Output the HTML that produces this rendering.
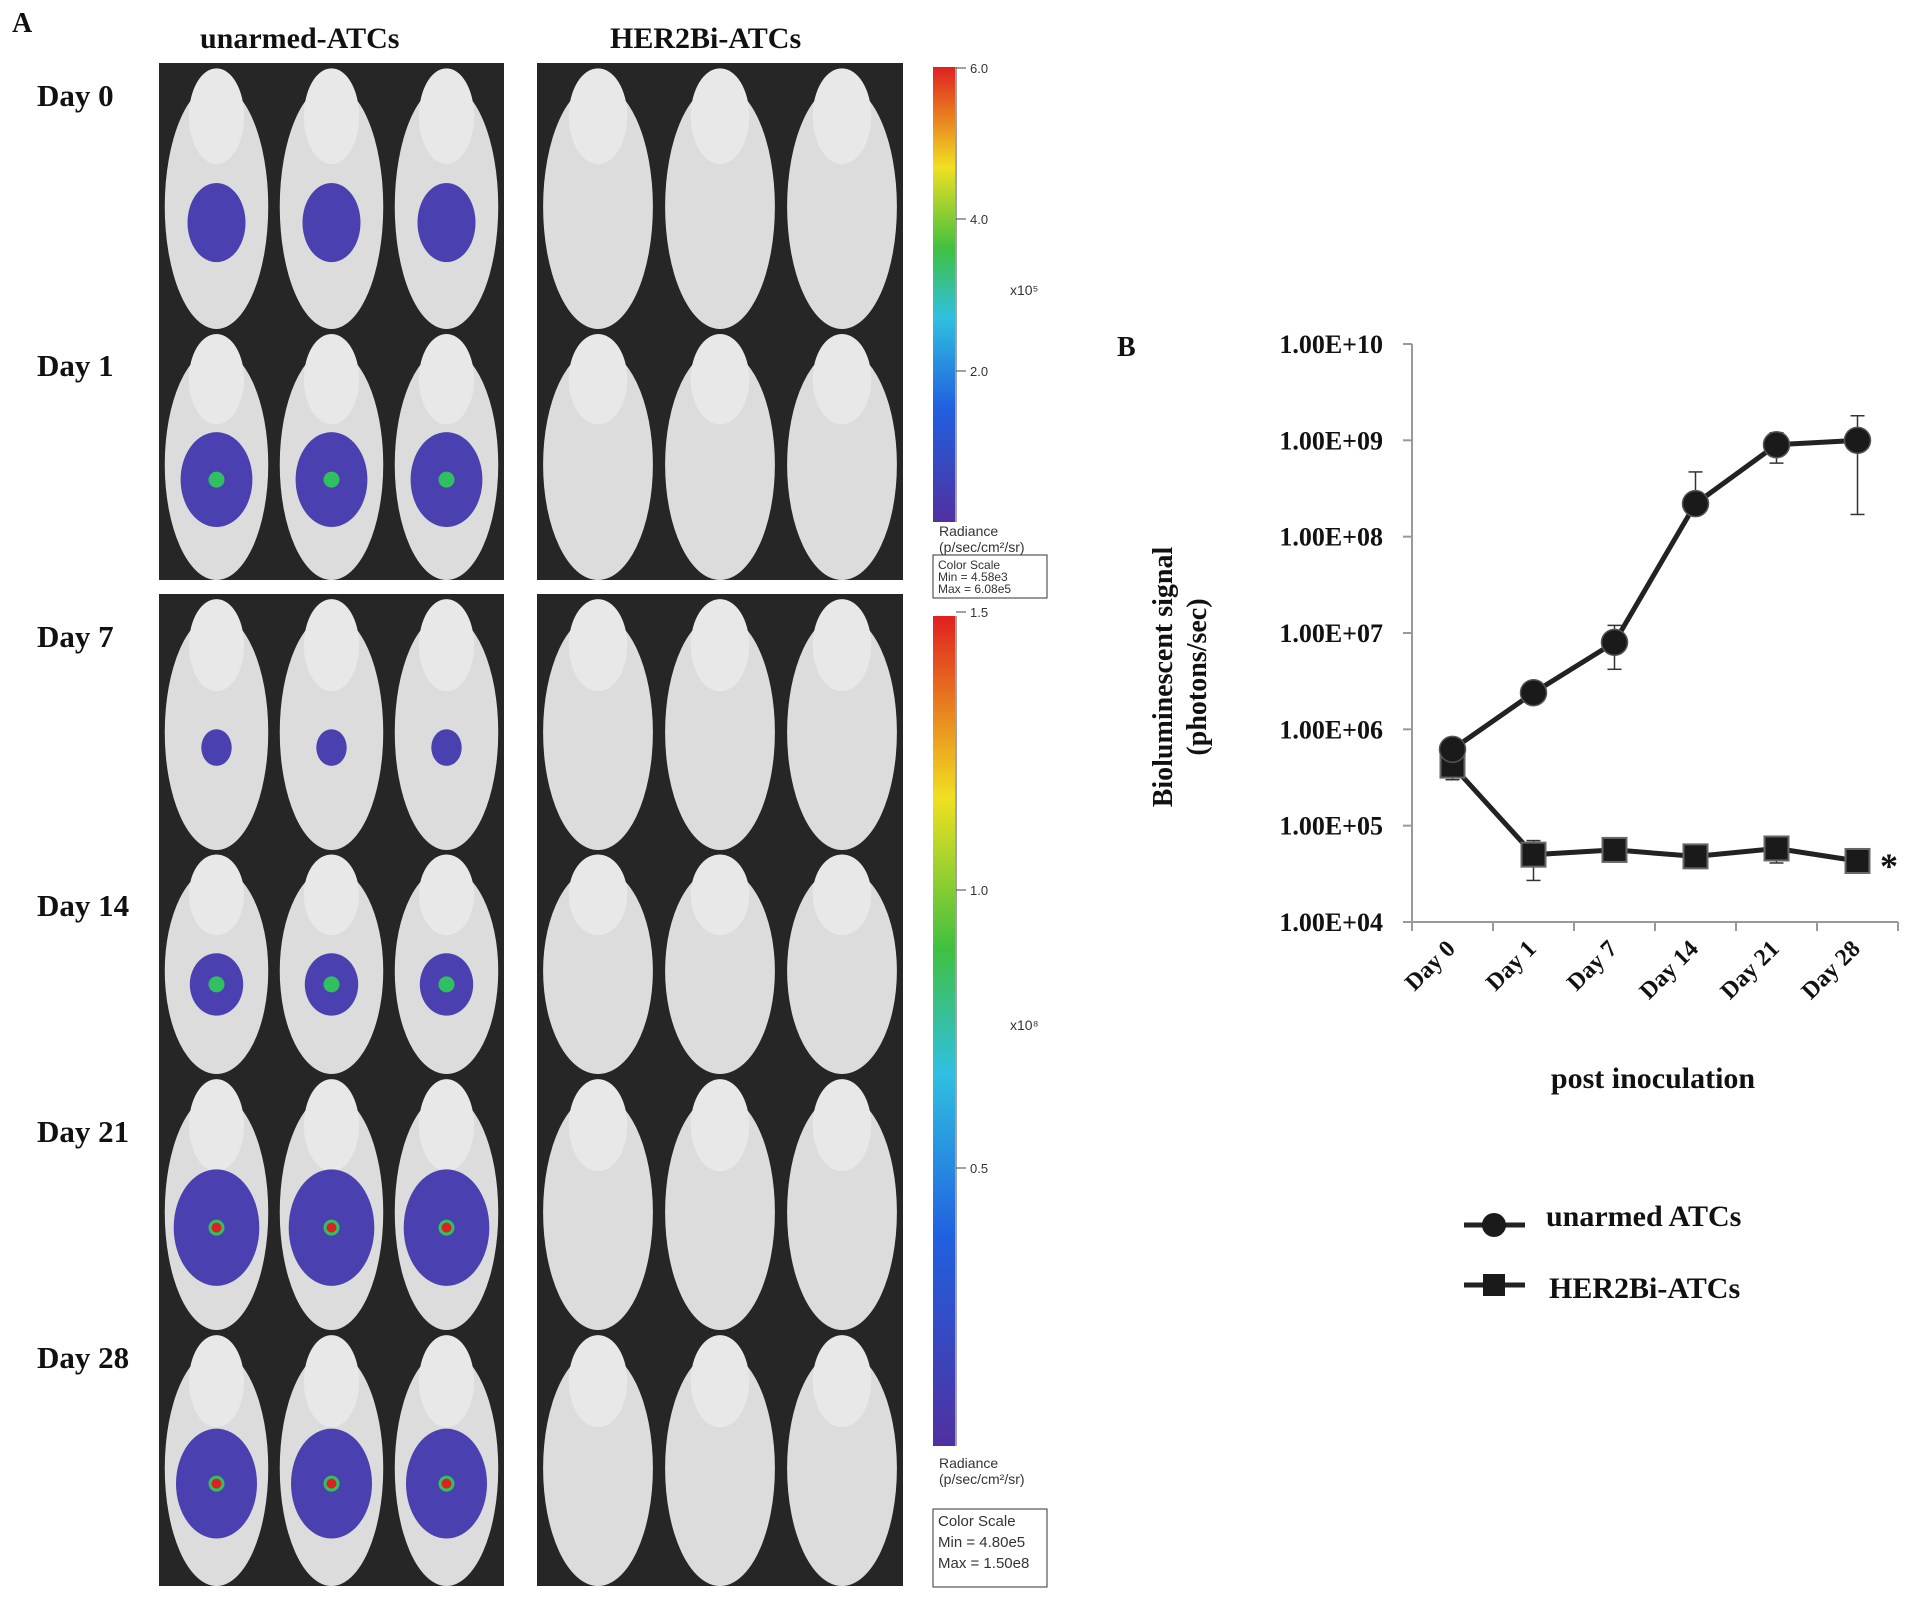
<!DOCTYPE html>
<html><head><meta charset="utf-8"><style>
body{margin:0;background:#fff;width:1913px;height:1610px;overflow:hidden;position:relative;font-family:"Liberation Serif",serif}
.t{position:absolute;font-weight:bold;color:#111;white-space:nowrap}
</style></head><body>
<div class="t" style="left:12px;top:8px;font-size:28px">A</div>
<div class="t" style="left:200px;top:22px;font-size:30px">unarmed-ATCs</div>
<div class="t" style="left:610px;top:22px;font-size:30px">HER2Bi-ATCs</div>
<svg id="photos" width="1100" height="1610" style="position:absolute;left:0;top:0"></svg>
<svg id="chart" width="1913" height="1610" style="position:absolute;left:0;top:0;pointer-events:none"></svg>
<script>
const NS="http://www.w3.org/2000/svg";
function mk(p,t,a){const e=document.createElementNS(NS,t);for(const k in a)e.setAttribute(k,a[k]);p.appendChild(e);return e;}
// ---- Panel A ----
const ph=document.getElementById('photos');
const dayLabels=["Day  0","Day 1","Day 7","Day 14","Day 21","Day 28"];
const rowsY=[[63,329],[329,580],[594,850],[850,1074],[1074,1330],[1330,1586]];
const labelY=[96,366,637,906,1132,1358];
const blobLevel=[1,1.3,0.4,0.9,1.6,1.5];
const blobHot=[0,1,0,1,2,2];
rowsY.forEach((r,i)=>{
  const tx=mk(ph,'text',{x:37,y:labelY[i]+10,'font-size':31,'font-weight':'bold','font-family':'Liberation Serif,serif',fill:'#111'});
  tx.textContent=dayLabels[i];
  
  
  [[159,504],[537,903]].forEach((c,j)=>{
    const g=mk(ph,'g',{});
    
    
    mk(g,'rect',{x:c[0],y:r[0],width:c[1]-c[0],height:r[1]-r[0],fill:'#262626'});
    const w=(c[1]-c[0])/3,h=r[1]-r[0];
    for(let k=0;k<3;k++){
      const cx=c[0]+w*(k+0.5),cy=r[0]+h*0.54;
      mk(g,'ellipse',{cx:cx,cy:cy,rx:w*0.45,ry:h*0.46,fill:'#dcdcdc'});
      mk(g,'ellipse',{cx:cx,cy:r[0]+h*0.2,rx:w*0.24,ry:h*0.18,fill:'#e8e8e8'});
      if(j===0){
        const lv=blobLevel[i],by=r[0]+h*0.6;
        mk(g,'ellipse',{cx:cx,cy:by,rx:w*0.2*lv+6,ry:h*0.13*lv+5,fill:'#4a40b0'});
        if(blobHot[i]>=1)mk(g,'circle',{cx:cx,cy:by,r:8,fill:'#30c060'});
        if(blobHot[i]>=2)mk(g,'circle',{cx:cx,cy:by,r:5,fill:'#e02020'});
      }
    }
  });
});
// colorbars
const defs=mk(ph,'defs',{});
const gr=mk(defs,'linearGradient',{id:'cb',x1:0,y1:1,x2:0,y2:0});
[['0','#5030a0'],['0.25','#2060e0'],['0.45','#30c0e0'],['0.6','#40c040'],['0.78','#f0e020'],['1','#e02020']].forEach(s=>mk(gr,'stop',{offset:s[0],'stop-color':s[1]}));
function cbar(y0,y1,ticks,tickY,exp,ey,ry,by,minT,maxT){
  const g=mk(ph,'g',{});
  
  
  mk(g,'rect',{x:933,y:y0,width:22,height:y1-y0,fill:'url(#cb)'});
  mk(g,'line',{x1:956,y1:y0,x2:956,y2:y1,stroke:'#444'});
  ticks.forEach((t,i)=>{mk(g,'line',{x1:956,y1:tickY[i],x2:966,y2:tickY[i],stroke:'#444'});
    const e=mk(g,'text',{x:970,y:tickY[i]+5,'font-size':13,'font-family':'Liberation Sans,sans-serif',fill:'#333'});e.textContent=t;});
  const x=mk(g,'text',{x:1010,y:ey,'font-size':14,'font-family':'Liberation Sans,sans-serif',fill:'#333'});x.textContent=exp;
  const r1=mk(g,'text',{x:939,y:ry,'font-size':14,'font-family':'Liberation Sans,sans-serif',fill:'#333'});r1.textContent='Radiance';
  const r2=mk(g,'text',{x:939,y:ry+16,'font-size':14,'font-family':'Liberation Sans,sans-serif',fill:'#333'});r2.textContent='(p/sec/cm²/sr)';
  mk(g,'rect',{x:933,y:by,width:114,height:y1>1000?78:43,fill:'none',stroke:'#333'});
  const fs=y1>1000?15:12,lh=y1>1000?21:12;
  ['Color Scale',minT,maxT].forEach((s,i)=>{const e=mk(g,'text',{x:938,y:by+fs+2+i*lh,'font-size':fs,'font-family':'Liberation Sans,sans-serif',fill:'#333'});e.textContent=s;});
}
cbar(67,522,['6.0','4.0','2.0'],[68,219,371],'x10⁵',295,536,555,'Min = 4.58e3','Max = 6.08e5');
cbar(616,1446,['1.5','1.0','0.5'],[612,890,1168],'x10⁸',1030,1468,1509,'Min = 4.80e5','Max = 1.50e8');

// ---- Panel B chart ----
const categories=["Day 0","Day 1","Day 7","Day 14","Day 21","Day 28"];
const unarmed=[6.2e5,2.4e6,8.0e6,2.2e8,9.0e8,1.0e9];
const unarmedErrHi=[6.8e5,2.6e6,1.2e7,4.7e8,1.2e9,1.8e9];
const unarmedErrLo=[5.6e5,2.2e6,4.2e6,2.2e8,5.8e8,1.7e8];
const her2bi=[4.2e5,5.0e4,5.6e4,4.8e4,5.8e4,4.3e4];
const her2biErrHi=[5.0e5,7.0e4,5.6e4,4.8e4,5.8e4,4.3e4];
const her2biErrLo=[3.0e5,2.7e4,5.6e4,4.8e4,4.1e4,4.3e4];
const yTicks=[1e4,1e5,1e6,1e7,1e8,1e9,1e10];
const yTickLabels=["1.00E+04","1.00E+05","1.00E+06","1.00E+07","1.00E+08","1.00E+09","1.00E+10"];
const ch=document.getElementById('chart');
const X0=1412,X1=1898,Y0=922,Y1=344;
const xs=i=>X0+(X1-X0)/categories.length*(i+0.5);
const ys=v=>Y0-(Math.log10(v)-4)/6*(Y0-Y1);
mk(ch,'line',{x1:X0,y1:Y1,x2:X0,y2:Y0,stroke:'#999','stroke-width':2});
mk(ch,'line',{x1:X0,y1:Y0,x2:X1,y2:Y0,stroke:'#999','stroke-width':2});
yTicks.forEach((v,i)=>{
  mk(ch,'line',{x1:X0-9,y1:ys(v),x2:X0,y2:ys(v),stroke:'#999','stroke-width':2});
  const t=mk(ch,'text',{x:1383,y:ys(v)+9,'text-anchor':'end','font-size':26,'font-weight':'bold','font-family':'Liberation Serif,serif',fill:'#111'});
  t.textContent=yTickLabels[i];
  
  
});
for(let i=0;i<=categories.length;i++){const x=X0+(X1-X0)/categories.length*i;mk(ch,'line',{x1:x,y1:Y0,x2:x,y2:Y0+9,stroke:'#999','stroke-width':2});}
categories.forEach((c,i)=>{
  const x=xs(i)+4,y=Y0+28;
  const t=mk(ch,'text',{x:x,y:y,'text-anchor':'end','font-size':24,'font-weight':'bold','font-family':'Liberation Serif,serif',fill:'#111',transform:`rotate(-45 ${x} ${y})`});
  t.textContent=c;
  
  
});
function series(vals,hi,lo,shape,name){
  const g=mk(ch,'g',{});
  
  
  vals.forEach((v,i)=>{const x=xs(i);
    mk(g,'line',{x1:x,y1:ys(hi[i]),x2:x,y2:ys(lo[i]),stroke:'#333','stroke-width':1.5});
    [hi[i],lo[i]].forEach(e=>mk(g,'line',{x1:x-7,y1:ys(e),x2:x+7,y2:ys(e),stroke:'#333','stroke-width':1.5}));});
  mk(g,'polyline',{points:vals.map((v,i)=>xs(i)+','+ys(v)).join(' '),fill:'none',stroke:'#222','stroke-width':5});
  vals.forEach((v,i)=>{const x=xs(i),y=ys(v);
    if(shape==='c')mk(g,'circle',{cx:x,cy:y,r:13,fill:'#1a1a1a',stroke:'#555','stroke-width':1.5});
    else mk(g,'rect',{x:x-12,y:y-12,width:24,height:24,fill:'#1a1a1a',stroke:'#666','stroke-width':2});});
}
series(her2bi,her2biErrHi,her2biErrLo,'s','series-her2bi-atcs');
series(unarmed,unarmedErrHi,unarmedErrLo,'c','series-unarmed-atcs');
function txt(s,x,y,fs,name,extra){const t=mk(ch,'text',Object.assign({x:x,y:y,'font-size':fs,'font-weight':'bold','font-family':'Liberation Serif,serif',fill:'#111'},extra||{}));t.textContent=s;return t;}
txt('*',1880,878,36,'significance-asterisk');
txt('B',1117,356,28,'panel-b-label');
txt('Bioluminescent signal',1172,677,28,'y-axis-title',{'text-anchor':'middle',transform:'rotate(-90 1172 677)'});
txt('(photons/sec)',1206,677,28,'y-axis-title-units',{'text-anchor':'middle',transform:'rotate(-90 1206 677)'});
txt('post inoculation',1653,1088,30,'x-axis-title',{'text-anchor':'middle'});
// legend
const lg=mk(ch,'g',{});


mk(lg,'line',{x1:1464,y1:1225,x2:1525,y2:1225,stroke:'#222','stroke-width':5});
mk(lg,'circle',{cx:1494,cy:1225,r:12,fill:'#1a1a1a'});
mk(lg,'line',{x1:1464,y1:1285,x2:1525,y2:1285,stroke:'#222','stroke-width':5});
mk(lg,'rect',{x:1483,y:1274,width:22,height:22,fill:'#1a1a1a'});
txt('unarmed ATCs',1546,1226,30,'legend-entry-unarmed');
txt('HER2Bi-ATCs',1549,1298,30,'legend-entry-her2bi');
</script>
</body></html>
